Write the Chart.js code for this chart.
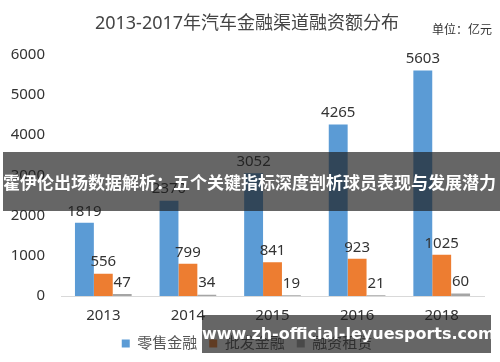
<!DOCTYPE html>
<html>
<head>
<meta charset="utf-8">
<script src="https://cdn.jsdelivr.net/npm/chart.js@4/dist/chart.umd.min.js"></script>
<style>
  body { margin: 0; background: #fff; }
  #wrap { position: relative; width: 500px; height: 362px; }
  .banner {
    position: absolute; left: 3px; top: 152px; width: 497px; height: 59px;
    background: rgba(30, 30, 30, 0.68); color: #fff;
    font: bold 17px "Noto Sans CJK SC", sans-serif;
    line-height: 59px; white-space: nowrap; overflow: hidden;
  }
  .mark {
    position: absolute; left: 202px; top: 315px; width: 289px; height: 38px;
    background: rgba(30, 30, 30, 0.68); color: #fff;
    font: bold 16px "DejaVu Sans", sans-serif; text-align: center;
    line-height: 38px; white-space: nowrap;
  }
</style>
</head>
<body>
<div id="wrap">
  <canvas id="chart" width="500" height="362"></canvas>
  <div class="banner">霍伊伦出场数据解析：五个关键指标深度剖析球员表现与发展潜力</div>
  <div class="mark">www.zh-official-leyuesports.com</div>
</div>
<script>
const years = ['2013', '2014', '2015', '2016', '2018'];
const retail = [1819, 2370, 3052, 4265, 5603];
const wholesale = [556, 799, 841, 923, 1025];
const leasing = [47, 34, 19, 21, 60];
const seriesNames = ['零售金融', '批发金融', '融资租赁'];
const yTicks = [0, 1000, 2000, 3000, 4000, 5000, 6000];

const font = '"Noto Sans", "Noto Sans CJK SC", sans-serif';

// value labels above each bar
const barLabels = {
  id: 'barLabels',
  afterDatasetsDraw(chart) {
    const ctx = chart.ctx;
    ctx.save();
    ctx.fillStyle = '#333';
    ctx.font = '15px ' + font;
    ctx.textAlign = 'center';
    ctx.textBaseline = 'bottom';
    chart.data.datasets.forEach((ds, i) => {
      chart.getDatasetMeta(i).data.forEach((bar, j) => {
        ctx.fillText(ds.data[j], bar.x, bar.y - 4);
      });
    });
    // unit note
    ctx.font = '12px ' + font;
    ctx.textAlign = 'right';
    ctx.textBaseline = 'middle';
    ctx.fillText('单位：亿元', 492, 31);
    ctx.restore();
  }
};

new Chart(document.getElementById('chart'), {
  type: 'bar',
  data: {
    labels: years,
    datasets: [
      { label: seriesNames[0], data: retail, backgroundColor: '#5B9BD5' },
      { label: seriesNames[1], data: wholesale, backgroundColor: '#ED7D31' },
      { label: seriesNames[2], data: leasing, backgroundColor: '#A5A5A5' }
    ]
  },
  options: {
    responsive: false,
    animation: false,
    layout: { padding: { left: 10, right: 16, top: 0, bottom: 1 } },
    datasets: {
      bar: { categoryPercentage: 0.67, barPercentage: 1.0 }
    },
    plugins: {
      title: {
        display: true,
        text: '2013-2017年汽车金融渠道融资额分布',
        color: '#444',
        font: { family: font, size: 18, weight: 'normal' },
        padding: { top: 13, bottom: 20 }
      },
      legend: {
        position: 'bottom',
        labels: {
          color: '#555',
          font: { family: font, size: 15 },
          boxWidth: 8,
          boxHeight: 8,
          padding: 12
        }
      },
      tooltip: { enabled: false }
    },
    scales: {
      x: {
        grid: { display: false, drawTicks: false },
        border: { display: true, color: '#d9d9d9' },
        ticks: { color: '#333', font: { family: font, size: 15 }, padding: 11 },
        afterFit: axis => { axis.height = 28; }
      },
      y: {
        min: 0,
        max: 6000,
        afterBuildTicks: axis => { axis.ticks = yTicks.map(v => ({ value: v })); },
        afterFit: axis => { axis.width = 51; },
        grid: { display: false, drawTicks: false },
        border: { display: false },
        ticks: {
          color: '#333',
          font: { family: font, size: 15 },
          padding: 16,
          callback: v => String(v)
        }
      }
    }
  },
  plugins: [barLabels]
});
</script>
</body>
</html>
